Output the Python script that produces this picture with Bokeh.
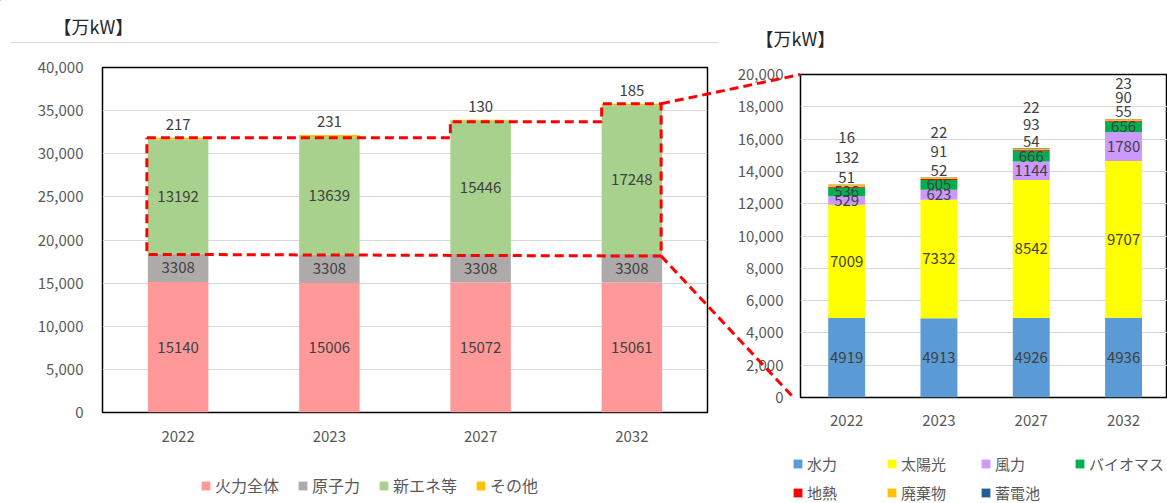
from bokeh.plotting import figure
from bokeh.models import (ColumnDataSource, Range1d, FactorRange, Legend, LegendItem,
                          NumeralTickFormatter, SingleIntervalTicker, FixedTicker)
from bokeh.embed import file_html
from bokeh.resources import INLINE
from bokeh.core.properties import value

# ---------------- data ----------------
years = ["2022", "2023", "2027", "2032"]

left_names = ["火力全体", "原子力", "新エネ等", "その他"]
thermal = [15140, 15006, 15072, 15061]
nuclear = [3308, 3308, 3308, 3308]
new_energy = [13192, 13639, 15446, 17248]
other = [217, 231, 130, 185]

right_names = ["水力", "太陽光", "風力", "バイオマス", "地熱", "廃棄物", "蓄電池"]
hydro = [4919, 4913, 4926, 4936]
solar = [7009, 7332, 8542, 9707]
wind = [529, 623, 1144, 1780]
biomass = [536, 605, 666, 656]
geothermal = [51, 52, 54, 55]
waste = [132, 91, 93, 90]
storage = [16, 22, 22, 23]

unit_title = "【万kW】"

# ---------------- style / layout ----------------
left_colors = ["#FF9999", "#AEAAAA", "#A9D18E", "#FFC000"]
right_colors = ["#5B9BD5", "#FFFF00", "#CC99FF", "#00B050", "#FF0000", "#FFC000", "#255E91"]
FONT = "Noto Sans CJK JP"
TICK_COLOR = "#595959"
LABEL_COLOR = "#404040"
GRID_COLOR = "#D9D9D9"

W, H = 1167, 503
SPLIT = 728                      # x where the right figure canvas starts
LF = (102, 707, 67, 412)         # left frame: x0, x1, y0(top), y1(bottom)  page px
RF = (800, 1167, 74, 397)        # right frame
LMAX, RMAX = 40000, 20000
R_PITCH = 92.3
BAR_W = 0.4
stack_gap = [20, 19, 17, 14]     # px spacing of small labels above right bars


def place(p, x, y):
    p.styles = {"position": "absolute", "left": f"{x}px", "top": f"{y}px"}


def style_axes(p, xstand, ystand):
    for ax in (p.xaxis[0], p.yaxis[0]):
        ax.axis_line_color = None
        ax.major_tick_line_color = None
        ax.minor_tick_line_color = None
        ax.major_tick_out = 0
        ax.major_tick_in = 0
        ax.major_label_text_font = FONT
        ax.major_label_text_font_size = "15px"
        ax.major_label_text_color = TICK_COLOR
    p.xaxis[0].major_label_standoff = xstand
    p.yaxis[0].major_label_standoff = ystand
    p.yaxis[0].formatter = NumeralTickFormatter(format="0,0")
    p.xgrid.visible = False
    p.ygrid.grid_line_color = GRID_COLOR
    p.ygrid.grid_line_width = 1
    p.outline_line_color = "black"
    p.outline_line_width = 1.5


# ---------------- left chart ----------------
left = figure(width=SPLIT, height=H, x_range=FactorRange(*years),
              y_range=Range1d(0, LMAX), output_backend="svg", toolbar_location=None,
              tools="", title=None,
              min_border_left=LF[0], min_border_right=SPLIT - LF[1],
              min_border_top=LF[2], min_border_bottom=H - LF[3])
style_axes(left, 18, 19)
left.yaxis[0].ticker = SingleIntervalTicker(interval=5000, num_minor_ticks=0)
place(left, 0, 0)

lsrc = ColumnDataSource(dict(year=years, thermal=thermal, nuclear=nuclear,
                             new_energy=new_energy, other=other))
lkeys = ["thermal", "nuclear", "new_energy", "other"]
lr = left.vbar_stack(lkeys, x="year", width=BAR_W, source=lsrc,
                     fill_color=left_colors, line_color=None)

lx, ly, lt = [], [], []
for i, y in enumerate(years):
    base = 0
    for series in (thermal, nuclear, new_energy):
        lx.append(y); ly.append(base + series[i] / 2); lt.append(str(series[i]))
        base += series[i]
left.text(x="x", y="y", text="t", source=ColumnDataSource(dict(x=lx, y=ly, t=lt)),
          text_align="center", text_baseline="middle", text_font=value(FONT),
          text_font_size="15px", text_color=LABEL_COLOR)
ltot = [thermal[i] + nuclear[i] + new_energy[i] + other[i] for i in range(len(years))]
left.text(x=years, y=ltot, text=[str(v) for v in other], y_offset=-13,
          text_align="center", text_baseline="middle", text_font=value(FONT),
          text_font_size="15px", text_color=LABEL_COLOR)

# ---------------- right chart ----------------
xpos = [i + 0.5 for i in range(len(years))]
right = figure(width=W - SPLIT, height=H,
               x_range=Range1d(0, (RF[1] - RF[0]) / R_PITCH),
               y_range=Range1d(0, RMAX), output_backend="svg", toolbar_location=None,
               tools="", title=None,
               min_border_left=RF[0] - SPLIT, min_border_right=0,
               min_border_top=RF[2], min_border_bottom=H - RF[3])
style_axes(right, 17, 17)
right.yaxis[0].ticker = SingleIntervalTicker(interval=2000, num_minor_ticks=0)
right.xaxis[0].ticker = FixedTicker(ticks=xpos)
right.xaxis[0].major_label_overrides = {x: y for x, y in zip(xpos, years)}
place(right, SPLIT, 0)

rseries = [hydro, solar, wind, biomass, geothermal, waste, storage]
rkeys = ["hydro", "solar", "wind", "biomass", "geothermal", "waste", "storage"]
rsrc = ColumnDataSource(dict(x=xpos, **{k: s for k, s in zip(rkeys, rseries)}))
rr = right.vbar_stack(rkeys, x="x", width=BAR_W, source=rsrc,
                      fill_color=right_colors, line_color=None)

rx, ry, rt, ro = [], [], [], []
for i in range(len(years)):
    base = 0
    for series in (hydro, solar, wind, biomass):
        rx.append(xpos[i]); ry.append(base + series[i] / 2); rt.append(str(series[i])); ro.append(0)
        base += series[i]
    top = base + geothermal[i] + waste[i] + storage[i]
    for k, series in enumerate((geothermal, waste, storage)):
        rx.append(xpos[i]); ry.append(top); rt.append(str(series[i]))
        ro.append(-(7 + k * stack_gap[i]))
right.text(x="x", y="y", text="t", y_offset="o",
           source=ColumnDataSource(dict(x=rx, y=ry, t=rt, o=ro)),
           text_align="center", text_baseline="middle", text_font=value(FONT),
           text_font_size="15px", text_color=LABEL_COLOR)

# ---------------- overlay (titles, separator, zoom connectors, legends) ----------------
ov = figure(width=W, height=H, x_range=Range1d(0, W), y_range=Range1d(H, 0),
            output_backend="svg", toolbar_location=None, tools="", title=None,
            min_border=0, x_axis_location=None, y_axis_location=None,
            background_fill_color=None, border_fill_color=None, outline_line_color=None)
ov.grid.visible = False
place(ov, 0, 0)

lpitch = (LF[1] - LF[0]) / len(years)


def lpx(u):
    return LF[0] + u * lpitch


def lpy(v):
    return LF[3] - v * (LF[3] - LF[2]) / LMAX


half = BAR_W / 2
bases = [thermal[i] + nuclear[i] for i in range(len(years))]
L1, L3, L4, R4 = lpx(0.5 - half) - 1, lpx(2.5 - half), lpx(3.5 - half), lpx(3.5 + half) - 1
T1, T3, T4 = lpy(ltot[0]), lpy(ltot[2]) + 2, lpy(ltot[3])
B1, B4 = lpy(bases[0]) + 1, lpy(bases[3]) + 2
dash = dict(line_color="#FF0000", line_width=3, line_dash="9 5")
ov.line([L1, L3, L3, L4, L4, R4, R4, L1, L1],
        [T1, T1, T3, T3, T4, T4, B4, B1, T1], **dash)
ov.line([R4, RF[0]], [T4, RF[2]], **dash)
ov.line([R4, RF[0] - 7], [B4, RF[3]], **dash)

ov.line([10, LF[1] + 11], [42, 42], line_color=GRID_COLOR, line_width=1)
ov.text(x=[53, 755], y=[25, 37], text=[unit_title, unit_title], text_align="left",
        text_baseline="middle", text_font=value(FONT), text_font_size="18px",
        text_color="#262626")

# legend swatches: off-canvas glyphs carrying the series colours
def swatch(c):
    return ov.vbar(x=[-100], top=[-100], bottom=[-110], width=5, fill_color=c, line_color=None)


lsw = [swatch(c) for c in left_colors]
rsw = [swatch(c) for c in right_colors]

leg_style = dict(orientation="horizontal", padding=0, margin=0, glyph_width=11,
                 glyph_height=11, label_standoff=4, label_height=22,
                 label_text_font=FONT, label_text_color=TICK_COLOR,
                 border_line_color=None, background_fill_alpha=0)
lleg = Legend(items=[LegendItem(label=n, renderers=[r]) for n, r in zip(left_names, lsw)],
              location=(200, H - 497), spacing=18, label_text_font_size="16px",
              **leg_style)
rleg = Legend(items=[LegendItem(label=n, renderers=[r]) for n, r in zip(right_names, rsw)],
              location=(792, 0), spacing=7, ncols=4, label_width=72,
              label_text_font_size="15px", **leg_style)
ov.add_layout(lleg)
ov.add_layout(rleg)

open("out.html", "w").write(file_html([left, right, ov], INLINE))
